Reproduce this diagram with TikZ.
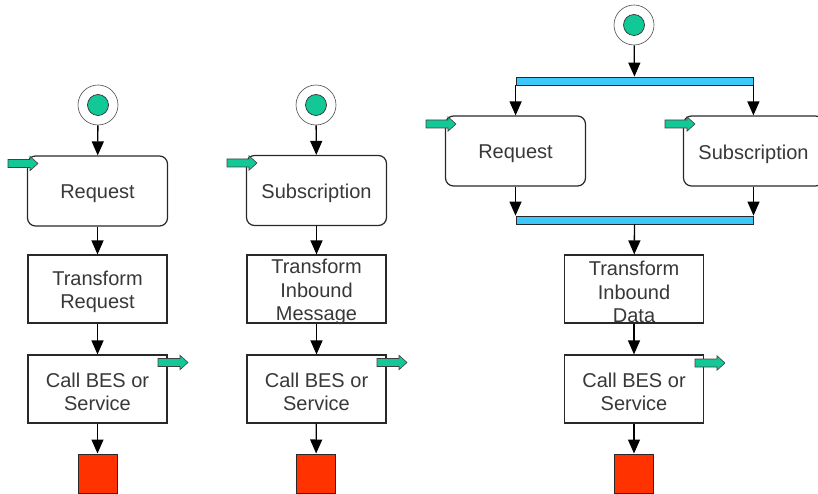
\documentclass[tikz,border=0pt]{standalone}
\usepackage{fontspec}
\setmainfont{Liberation Sans}
\usetikzlibrary{arrows.meta}
\definecolor{tgreen}{RGB}{18,200,150}
\definecolor{tblue}{RGB}{60,200,250}
\definecolor{tred}{RGB}{255,50,0}
\definecolor{tline}{RGB}{40,40,40}
\tikzset{
  txt/.style={font=\fontsize{20}{23.5}\selectfont, text=black!78, align=center, inner sep=0pt},
  actbox/.style={draw=tline, line width=1.2pt, fill=white, rounded corners=8pt, minimum width=140pt, minimum height=70pt},
  procbox/.style={draw=tline, line width=1.2pt, fill=white, minimum width=139pt, minimum height=68pt},
  boxtext/.style={label={[txt,yshift=-3pt]center:{#1}}},
  startouter/.style={circle, draw=black!70, line width=0.6pt, fill=white, minimum size=40pt, inner sep=0pt},
  startinner/.style={circle, draw=black!80, line width=0.7pt, fill=tgreen, minimum size=21pt, inner sep=0pt},
  endbox/.style={draw=tline, line width=1pt, fill=tred, minimum size=39pt, inner sep=0pt},
  barbox/.style={draw=tline, line width=0.8pt, fill=tblue, minimum width=237pt, minimum height=8pt, inner sep=0pt},
  flow/.style={-{Triangle[width=12pt,length=14pt]}, line width=1.3pt, draw=black},
  garrow/.pic={\draw[fill=tgreen, draw=black!75, line width=0.6pt]
     (0,-4) -- (22,-4) -- (22,-7.2) -- (30,0) -- (22,7.2) -- (22,4) -- (0,4) -- cycle;}
}
\begin{document}
\begin{tikzpicture}[x=1pt,y=-1pt]
\useasboundingbox (0,0) rectangle (818,494);

% Column 1
\node[startouter] (s1) at (98,105) {};
\node[startinner] (s1i) at (s1) {};
\node[actbox, boxtext={Request}] (r1) at (97.5,191) {};
\node[procbox, boxtext={Transform\\Request}] (t1) at (97.5,289) {};
\node[procbox, boxtext={Call BES or\\Service}] (c1) at (97.5,389) {};
\node[endbox] (e1) at (97.5,473.5) {};
\draw[flow] (s1) -- (r1);
\draw[flow] (r1) -- (t1);
\draw[flow] (t1) -- (c1);
\draw[flow] (c1) -- (e1);
\pic at (8,163.5) {garrow};
\pic at (158,362.5) {garrow};

% Column 2
\node[startouter] (s2) at (316,105) {};
\node[startinner] (s2i) at (s2) {};
\node[actbox, boxtext={Subscription}] (r2) at (316.5,190.5) {};
\node[procbox, boxtext={Transform\\Inbound\\Message}] (t2) at (316.5,289) {};
\node[procbox, boxtext={Call BES or\\Service}] (c2) at (316.5,389) {};
\node[endbox] (e2) at (316,473.5) {};
\draw[flow] (s2) -- (r2);
\draw[flow] (r2) -- (t2);
\draw[flow] (t2) -- (c2);
\draw[flow] (c2) -- (e2);
\pic at (227,163) {garrow};
\pic at (377,362.5) {garrow};

% Column 3
\node[startouter] (s3) at (634,25) {};
\node[startinner] (s3i) at (s3) {};
\node[barbox] (b1) at (634.5,81) {};
\node[actbox, boxtext={Request}] (r3) at (515.5,151) {};
\node[actbox, boxtext={Subscription}] (q3) at (753.5,151) {};
\node[barbox] (b2) at (634.5,220) {};
\node[procbox, boxtext={Transform\\Inbound\\Data}] (t3) at (634,289) {};
\node[procbox, boxtext={Call BES or\\Service}] (c3) at (634,389) {};
\node[endbox] (e3) at (634,473.5) {};
\draw[flow] (s3) -- (b1);
\draw[flow] (b1.south west) -- (b1.south west |- r3.north);
\draw[flow] (b1.south east) -- (b1.south east |- q3.north);
\draw[flow] (r3.south) -- (r3.south |- b2.north);
\draw[flow] (q3.south) -- (q3.south |- b2.north);
\draw[flow] (b2) -- (t3);
\draw[flow] (t3) -- (c3);
\draw[flow] (c3) -- (e3);
\pic at (426,124) {garrow};
\pic at (665,124) {garrow};
\pic at (695,363) {garrow};
\end{tikzpicture}
\end{document}
